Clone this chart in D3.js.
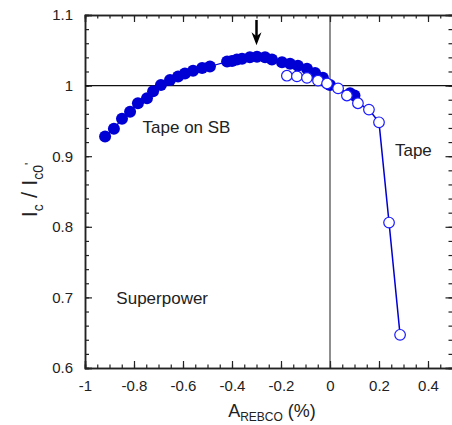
<!DOCTYPE html>
<html>
<head>
<meta charset="utf-8">
<script src="https://cdn.jsdelivr.net/npm/d3@7"></script>
<style>
  body { margin: 0; background: #fff; }
  text { font-family: "Liberation Sans", Arial, sans-serif; fill: #222; }
</style>
</head>
<body>
<div id="chart"></div>
<script>
// Tape on SB (filled symbols)
var sbStrain = [-0.918, -0.882, -0.849, -0.816, -0.784, -0.747, -0.722, -0.690, -0.653, -0.620,
                -0.592, -0.559, -0.522, -0.490, -0.420, -0.400, -0.380, -0.359, -0.327, -0.298,
                -0.265, -0.237, -0.196, -0.163, -0.131, -0.094, -0.061, -0.029, 0.000, 0.082, 0.100];
var sbIc = [0.928, 0.939, 0.953, 0.963, 0.975, 0.982, 0.992, 1.001, 1.008, 1.013,
            1.017, 1.021, 1.025, 1.027, 1.034, 1.035, 1.037, 1.038, 1.040, 1.041,
            1.040, 1.037, 1.033, 1.031, 1.028, 1.024, 1.018, 1.011, 1.001, 0.989, 0.986];

// bare Tape (open symbols)
var tapeStrain = [-0.176, -0.135, -0.094, -0.049, -0.012, 0.033, 0.069, 0.114, 0.159, 0.200, 0.241, 0.286];
var tapeIc = [1.014, 1.013, 1.011, 1.007, 1.003, 0.996, 0.986, 0.975, 0.966, 0.948, 0.806, 0.647];

var xTicks = [-1, -0.8, -0.6, -0.4, -0.2, 0, 0.2, 0.4];
var yTicks = [0.6, 0.7, 0.8, 0.9, 1, 1.1];

var margin = {top: 15, right: 0, bottom: 57, left: 85};
var width = 367.5, height = 353;

var x = d3.scaleLinear().domain([-1, 0.5]).range([0, width]);
var y = d3.scaleLinear().domain([0.6, 1.1]).range([height, 0]);

var svg = d3.select("#chart").append("svg")
    .attr("width", 452)
    .attr("height", 425);

var g = svg.append("g")
    .attr("transform", "translate(" + margin.left + "," + margin.top + ")");

var xMinor = d3.range(-1, 0.5001, 0.05).map(function(d) { return +d.toFixed(2); });
var yMinor = d3.range(0.6, 1.1001, 0.02).map(function(d) { return +d.toFixed(2); });

// plain hyphen for negatives, like the original
function fmt(d) { return String(+d.toFixed(1)); }

// minor ticks (inward) on all four sides
g.append("g").attr("transform", "translate(0," + height + ")")
    .call(d3.axisBottom(x).tickValues(xMinor).tickSize(-3.5).tickFormat(""));
g.append("g")
    .call(d3.axisTop(x).tickValues(xMinor).tickSize(-3.5).tickFormat(""));
g.append("g")
    .call(d3.axisLeft(y).tickValues(yMinor).tickSize(-4).tickFormat(""));
g.append("g").attr("transform", "translate(" + width + ",0)")
    .call(d3.axisRight(y).tickValues(yMinor).tickSize(-4).tickFormat(""));

// major ticks + labels
g.append("g").attr("class", "x-axis").attr("transform", "translate(0," + height + ")")
    .call(d3.axisBottom(x).tickValues(xTicks).tickSize(-7).tickPadding(12).tickFormat(fmt));
g.append("g")
    .call(d3.axisTop(x).tickValues(xTicks).tickSize(-7).tickFormat(""));
g.append("g").attr("class", "y-axis")
    .call(d3.axisLeft(y).tickValues(yTicks).tickSize(-7).tickPadding(12).tickFormat(fmt));
g.append("g").attr("transform", "translate(" + width + ",0)")
    .call(d3.axisRight(y).tickValues(yTicks).tickSize(-7).tickFormat(""));

g.selectAll(".domain").attr("stroke", "#222").attr("stroke-width", 1.5);
g.selectAll(".tick line").attr("stroke", "#222").attr("stroke-width", 1.2);
g.selectAll(".tick text").style("font-size", "15px").attr("fill", "#222");

// reference lines
g.append("line")
    .attr("x1", 0).attr("x2", width)
    .attr("y1", y(1)).attr("y2", y(1))
    .attr("stroke", "#111").attr("stroke-width", 1.3);
g.append("line")
    .attr("x1", x(0)).attr("x2", x(0))
    .attr("y1", 0).attr("y2", height)
    .attr("stroke", "#333").attr("stroke-width", 1.1);

var blue = "#0000d4";

var line = d3.line()
    .x(function(d) { return x(d[0]); })
    .y(function(d) { return y(d[1]); });

var sbData = d3.zip(sbStrain, sbIc);
var tapeData = d3.zip(tapeStrain, tapeIc);

g.append("path").datum(sbData)
    .attr("fill", "none").attr("stroke", blue).attr("stroke-width", 1.2)
    .attr("d", line);
g.selectAll(".sb").data(sbData).enter().append("circle")
    .attr("class", "sb")
    .attr("cx", function(d) { return x(d[0]); })
    .attr("cy", function(d) { return y(d[1]); })
    .attr("r", 6)
    .attr("fill", blue);

g.append("path").datum(tapeData)
    .attr("fill", "none").attr("stroke", blue).attr("stroke-width", 1.5)
    .attr("d", line);
g.selectAll(".tape").data(tapeData).enter().append("circle")
    .attr("class", "tape")
    .attr("cx", function(d) { return x(d[0]); })
    .attr("cy", function(d) { return y(d[1]); })
    .attr("r", 5.3)
    .attr("fill", "#fff")
    .attr("stroke", "#1a1aff").attr("stroke-width", 1.2);

// arrow marking the peak
var ax = x(-0.3), aTop = y(1.093), aTip = y(1.057);
g.append("line")
    .attr("x1", ax).attr("x2", ax).attr("y1", aTop).attr("y2", aTip - 6)
    .attr("stroke", "#000").attr("stroke-width", 2.5);
g.append("path")
    .attr("d", "M" + (ax - 5) + "," + (aTip - 13) + "L" + ax + "," + (aTip - 9) +
               "L" + (ax + 5) + "," + (aTip - 13) + "L" + ax + "," + aTip + "Z")
    .attr("fill", "#000");

// annotations
g.append("text").attr("x", x(-0.765)).attr("y", y(0.933))
    .style("font-size", "17px").text("Tape on SB");
g.append("text").attr("x", x(0.265)).attr("y", y(0.9))
    .style("font-size", "17px").text("Tape");
g.append("text").attr("x", x(-0.872)).attr("y", y(0.691))
    .style("font-size", "17px").text("Superpower");

// axis titles
var xl = svg.append("text")
    .attr("x", 272).attr("y", 417)
    .style("text-anchor", "middle")
    .style("font-size", "18px");
xl.append("tspan").text("A");
xl.append("tspan").attr("dy", 4).style("font-size", "12px").text("REBCO");
xl.append("tspan").attr("dy", -4).text(" (%)");

var yl = svg.append("text")
    .attr("transform", "translate(37,190) rotate(-90)")
    .style("text-anchor", "middle")
    .style("font-size", "22px");
yl.append("tspan").text("I");
yl.append("tspan").attr("dy", 6).style("font-size", "14px").text("c");
yl.append("tspan").attr("dy", -6).text(" / I");
yl.append("tspan").attr("dy", 6).style("font-size", "14px").text("c0");
yl.append("tspan").attr("dy", -9).style("font-size", "12px").text("'");
</script>
</body>
</html>
